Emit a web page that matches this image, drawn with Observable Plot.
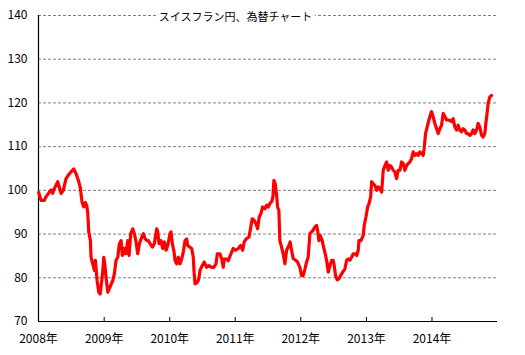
<!DOCTYPE html>
<html><head><meta charset="utf-8">
<script src="https://cdn.jsdelivr.net/npm/d3@7"></script>
<script src="https://cdn.jsdelivr.net/npm/@observablehq/plot@0.6"></script>
<style>
body{margin:0;background:#fff;}
#wrap{position:relative;width:525px;height:355px;font-family:"Noto Sans CJK JP",sans-serif;}
#title{position:absolute;top:8px;left:0;width:471px;text-align:center;font-size:11px;line-height:16px;color:#000;}
#title span{background:#fff;padding:0 3px;}
</style></head>
<body><div id="wrap"><div id="chart"></div><div id="title"><span id="tt"></span></div></div>
<script>
const title = "スイスフラン円、為替チャート";
const years = [
2008.003,2008.038,2008.088,2008.114,2008.165,2008.191,2008.216,2008.241,2008.293,2008.308,
2008.343,2008.378,2008.419,2008.470,2008.537,2008.572,2008.613,2008.637,2008.663,2008.689,
2008.713,2008.735,2008.750,2008.765,2008.790,2008.800,2008.826,2008.851,2008.866,2008.892,
2008.918,2008.938,2008.957,2008.979,2008.994,2009.014,2009.029,2009.055,2009.090,2009.131,
2009.155,2009.181,2009.207,2009.232,2009.258,2009.277,2009.308,2009.329,2009.360,2009.380,
2009.405,2009.436,2009.460,2009.486,2009.512,2009.537,2009.573,2009.598,2009.623,2009.649,
2009.674,2009.700,2009.735,2009.765,2009.802,2009.817,2009.837,2009.867,2009.893,2009.918,
2009.944,2009.970,2010.005,2010.020,2010.040,2010.066,2010.081,2010.107,2010.131,2010.157,
2010.183,2010.207,2010.233,2010.259,2010.274,2010.309,2010.335,2010.360,2010.370,2010.386,
2010.412,2010.436,2010.447,2010.462,2010.497,2010.527,2010.564,2010.599,2010.640,2010.675,
2010.706,2010.727,2010.767,2010.793,2010.817,2010.832,2010.869,2010.893,2010.934,2010.970,
2011.006,2011.046,2011.082,2011.113,2011.137,2011.174,2011.209,2011.229,2011.259,2011.285,
2011.316,2011.341,2011.366,2011.392,2011.418,2011.453,2011.479,2011.503,2011.529,2011.555,
2011.575,2011.590,2011.610,2011.631,2011.646,2011.666,2011.681,2011.707,2011.732,2011.758,
2011.784,2011.819,2011.838,2011.860,2011.884,2011.921,2011.951,2011.986,2012.012,2012.037,
2012.063,2012.088,2012.113,2012.139,2012.165,2012.189,2012.215,2012.241,2012.256,2012.276,
2012.296,2012.326,2012.352,2012.378,2012.398,2012.418,2012.444,2012.470,2012.494,2012.509,
2012.530,2012.555,2012.581,2012.607,2012.637,2012.672,2012.698,2012.723,2012.748,2012.774,
2012.799,2012.825,2012.851,2012.875,2012.886,2012.916,2012.951,2012.966,2012.992,2013.018,
2013.038,2013.064,2013.079,2013.104,2013.130,2013.155,2013.180,2013.206,2013.232,2013.256,
2013.282,2013.308,2013.332,2013.358,2013.384,2013.409,2013.434,2013.460,2013.485,2013.511,
2013.537,2013.561,2013.587,2013.613,2013.637,2013.663,2013.689,2013.713,2013.739,2013.765,
2013.790,2013.815,2013.841,2013.866,2013.881,2013.902,2013.927,2013.953,2013.983,2013.994,
2014.018,2014.044,2014.070,2014.095,2014.120,2014.146,2014.171,2014.197,2014.223,2014.258,
2014.299,2014.323,2014.349,2014.375,2014.399,2014.425,2014.451,2014.476,2014.501,2014.527,
2014.552,2014.578,2014.604,2014.628,2014.654,2014.680,2014.704,2014.730,2014.756,2014.780,
2014.806,2014.822,2014.841,2014.857,2014.883,2014.909
];
const rates = [
99.5,97.7,97.7,98.5,99.6,100.1,99.3,100.4,102.0,101.2,
99.3,100.0,102.7,103.8,104.9,103.8,102.0,100.5,97.3,96.2,
97.2,96.5,94.7,90.5,88.5,84.7,83.2,81.7,84.0,79.4,
76.7,76.3,78.6,81.7,84.7,82.4,80.0,76.7,77.9,79.4,
80.9,84.0,84.7,87.8,88.5,85.1,86.7,85.5,88.5,85.1,
90.1,91.2,90.1,88.2,85.5,87.8,89.3,90.1,89.0,88.5,
88.5,87.8,87.0,87.8,91.2,90.5,87.8,88.5,86.7,88.2,
86.3,87.4,90.1,90.5,87.8,85.9,84.0,83.2,84.7,83.2,
84.3,85.9,88.5,88.9,87.4,87.0,86.7,84.7,81.7,78.6,
78.8,79.4,80.1,81.7,82.8,83.6,82.4,82.8,82.4,82.4,
83.2,85.5,85.5,84.3,82.4,84.3,84.3,83.9,85.5,86.7,
86.3,86.7,87.4,86.3,88.2,89.0,89.3,90.9,93.5,93.2,
92.4,91.2,93.9,94.7,96.2,95.8,96.6,96.2,97.0,97.4,
98.5,102.3,101.5,98.9,96.2,95.4,88.5,87.0,85.5,83.2,
86.3,87.4,88.2,86.3,84.4,84.0,83.6,82.4,80.5,80.5,
82.0,83.6,84.7,90.1,90.5,90.9,91.6,92.0,90.9,88.5,
89.7,88.5,86.7,85.1,83.6,81.3,82.8,84.0,84.0,82.8,
80.5,79.5,79.8,80.5,81.3,82.0,84.0,84.3,84.0,84.7,
85.5,85.5,85.1,86.3,88.5,88.5,89.7,92.0,93.9,96.2,
96.9,98.5,102.0,101.5,101.1,100.0,100.8,100.4,99.6,104.6,
105.7,106.5,104.6,105.7,105.3,104.6,104.2,102.7,104.6,104.6,
106.5,106.1,104.6,105.7,106.1,106.5,107.3,108.8,108.0,108.4,
108.0,108.8,108.4,108.0,109.6,113.0,114.5,116.1,117.6,118.0,
116.8,115.3,114.1,113.0,114.1,114.9,117.6,116.9,116.1,116.1,
115.7,116.4,114.5,113.8,114.9,113.8,113.4,114.1,113.8,113.0,
113.0,112.6,113.0,113.8,113.0,113.8,115.3,114.5,112.6,112.2,
113.0,115.3,117.6,119.9,121.4,121.7
];
const yTicks = [70,80,90,100,110,120,130,140];
const tickYears = [2008,2009,2010,2011,2012,2013,2014];
const domainYears = [2008,2015];

function toDate(t){
  const y = Math.floor(t);
  const a = Date.UTC(y,0,1), b = Date.UTC(y+1,0,1);
  return new Date(a + (t-y)*(b-a));
}
const data = years.map((t,i)=>({date: toDate(t), rate: rates[i]}));
const tickDates = tickYears.map(y=>new Date(Date.UTC(y,0,1)));
const xDomain = domainYears.map(y=>new Date(Date.UTC(y,0,1)));

const chart = Plot.plot({
  width:525, height:355,
  marginLeft:38, marginRight:28, marginTop:15, marginBottom:34,
  style:{fontFamily:'"Noto Sans CJK JP", sans-serif', fontSize:"12px", background:"#fff", color:"#000", overflow:"visible"},
  x:{type:"utc", domain:xDomain, label:null},
  y:{domain:[yTicks[0], yTicks[yTicks.length-1]], label:null},
  marks:[
    Plot.gridY(yTicks.slice(1), {stroke:"#808080", strokeOpacity:1, strokeDasharray:"3,2"}),
    Plot.axisY(yTicks, {tickSize:0, tickPadding:11, fontSize:12, fill:"#000", label:null}),
    Plot.axisX(tickDates, {tickSize:-4, tickPadding:17, fontSize:12, fill:"#000", stroke:"#000", label:null, tickFormat:d=>d.getUTCFullYear()+"年"}),
    Plot.ruleY([yTicks[0]], {stroke:"#000", strokeWidth:1.2}),
    Plot.ruleX([xDomain[0]], {stroke:"#000", strokeWidth:1.2}),
    Plot.line(data, {x:"date", y:"rate", stroke:"#ff0000", strokeWidth:3.2, strokeLinejoin:"round"})
  ]
});
document.getElementById("chart").appendChild(chart);
document.getElementById("tt").textContent = title;
</script>
</body></html>
